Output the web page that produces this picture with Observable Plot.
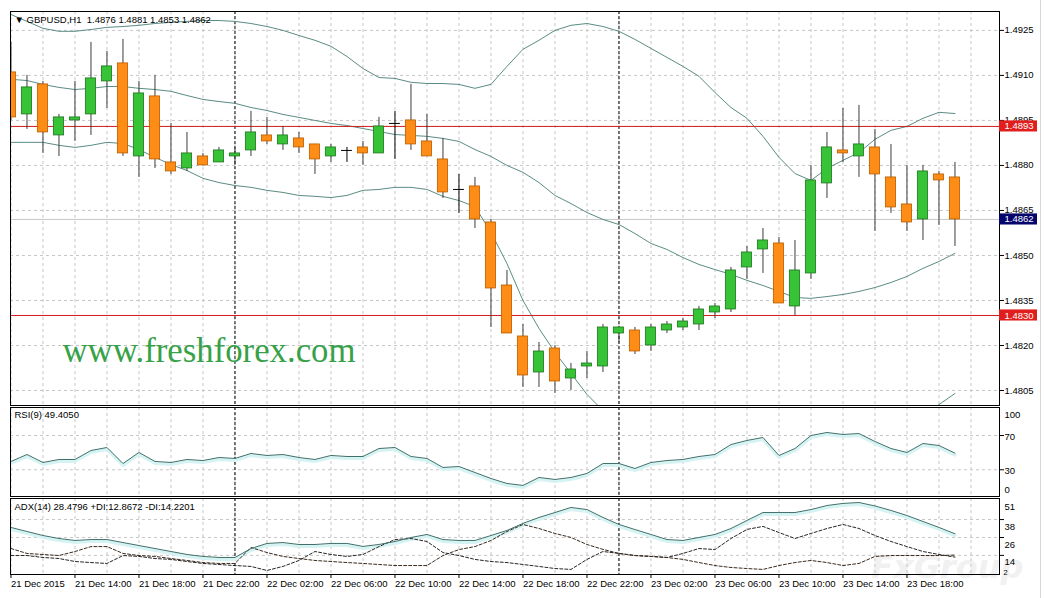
<!DOCTYPE html>
<html>
<head>
<meta charset="utf-8">
<script src="https://cdn.jsdelivr.net/npm/d3@7"></script>
<script src="https://cdn.jsdelivr.net/npm/@observablehq/plot@0.6"></script>
<style>
  body { margin: 0; background: #fff; }
  #wrap { position: relative; width: 1044px; height: 598px; overflow: hidden; }
  #wrap svg { display: block; }
  #edge { position: absolute; left: 1040px; top: 0; width: 1px; height: 598px; background: #d6d6d6; }
</style>
</head>
<body>
<div id="wrap"><div id="edge"></div></div>
<script>
// GBPUSD H1, 21 Dec 10:00 .. 23 Dec 21:00 (one value per bar)
const open = [1.4911,1.4897,1.4907,1.4890,1.4895,1.4897,1.4908,1.4914,1.4883,1.4903,
  1.4881,1.4879,1.4883,1.4881,1.4883,1.4885,1.4890,1.4887,1.4889,1.4887,
  1.4883,1.4885,1.4886,1.4884,1.4894,1.4895,1.4888,1.4882,1.4872,1.4873,
  1.4861,1.4840,1.4823,1.4811,1.4819,1.4809,1.4813,1.4813,1.4824,1.4825,
  1.4820,1.4825,1.4826,1.4827,1.4831,1.4832,1.4846,1.4852,1.4854,1.4833,
  1.4844,1.4874,1.4885,1.4883,1.4886,1.4876,1.4867,1.4862,1.4877,1.4876];
const high = [1.4921,1.4910,1.4908,1.4897,1.4908,1.4921,1.4918,1.4922,1.4908,1.4910,
  1.4894,1.4891,1.4884,1.4886,1.4886,1.4898,1.4896,1.4893,1.4891,1.4887,
  1.4887,1.4886,1.4888,1.4896,1.4898,1.4907,1.4897,1.4889,1.4877,1.4876,
  1.4862,1.4845,1.4827,1.4821,1.4820,1.4814,1.4818,1.4827,1.4826,1.4826,
  1.4827,1.4828,1.4829,1.4833,1.4834,1.4846,1.4853,1.4859,1.4856,1.4855,
  1.4880,1.4891,1.4899,1.4900,1.4892,1.4887,1.4880,1.4880,1.4878,1.4881];
const low = [1.4895,1.4892,1.4884,1.4883,1.4888,1.4890,1.4899,1.4883,1.4876,1.4879,
  1.4877,1.4878,1.4880,1.4881,1.4880,1.4883,1.4887,1.4885,1.4884,1.4877,
  1.4881,1.4881,1.4880,1.4884,1.4882,1.4885,1.4883,1.4869,1.4864,1.4859,
  1.4826,1.4824,1.4806,1.4806,1.4804,1.4805,1.4809,1.4811,1.4821,1.4817,
  1.4818,1.4824,1.4825,1.4825,1.4829,1.4831,1.4842,1.4844,1.4834,1.4830,
  1.4842,1.4869,1.4881,1.4876,1.4858,1.4864,1.4858,1.4855,1.4860,1.4853];
const close = [1.4896,1.4906,1.4891,1.4896,1.4896,1.4909,1.4913,1.4884,1.4904,1.4882,
  1.4878,1.4884,1.4880,1.4885,1.4884,1.4891,1.4888,1.4890,1.4886,1.4882,
  1.4886,1.4885,1.4884,1.4893,1.4894,1.4887,1.4883,1.4871,1.4872,1.4862,
  1.4839,1.4824,1.4810,1.4818,1.4808,1.4812,1.4814,1.4826,1.4826,1.4818,
  1.4826,1.4827,1.4828,1.4832,1.4833,1.4845,1.4851,1.4855,1.4834,1.4845,
  1.4875,1.4886,1.4884,1.4887,1.4877,1.4866,1.4861,1.4878,1.4875,1.4862];

// Bollinger bands as drawn (lower band leaves the chart in the middle)
const bbUpper = [1.49303,1.4928,1.49257,1.49247,1.49247,1.49253,1.4926,1.49263,1.49267,1.49273,
  1.49277,1.4928,1.49283,1.49283,1.4928,1.49273,1.49263,1.4925,1.49233,1.49217,
  1.49197,1.49163,1.49123,1.49093,1.4909,1.49077,1.49073,1.49073,1.4907,1.49057,
  1.4907,1.4913,1.49187,1.49217,1.4925,1.49267,1.49273,1.49263,1.49247,1.4922,
  1.4919,1.4916,1.4913,1.49097,1.49043,1.48993,1.48957,1.48897,1.48827,1.48773,
  1.4875,1.4879,1.48817,1.48843,1.48887,1.48917,1.4893,1.48957,1.48977,1.48973];
const bbMiddle = [1.49087,1.49083,1.4907,1.4906,1.49053,1.49057,1.49063,1.49063,1.49057,1.49053,
  1.49047,1.49033,1.4902,1.49013,1.49007,1.48993,1.48983,1.4897,1.4896,1.4895,
  1.4894,1.48933,1.48923,1.48913,1.48903,1.489,1.48897,1.4889,1.4888,1.48853,
  1.4883,1.488,1.48777,1.48743,1.487,1.48673,1.48643,1.4862,1.48603,1.48573,
  1.4854,1.4852,1.48493,1.4847,1.48453,1.48437,1.48417,1.484,1.4838,1.4836,
  1.48357,1.48363,1.4837,1.4838,1.48393,1.4841,1.4843,1.48457,1.4848,1.48507];
const bbLower = [1.48877,1.48877,1.48877,1.48867,1.4886,1.48867,1.48877,1.48873,1.48853,1.48827,
  1.48803,1.48783,1.48757,1.48743,1.48733,1.48727,1.48717,1.4871,1.487,1.48697,
  1.48693,1.487,1.48717,1.4872,1.48727,1.48727,1.4872,1.48697,1.48683,1.48663,
  1.48577,1.48473,1.4835,1.48257,1.48177,1.48107,1.48037,1.47983,null,null,
  null,null,null,null,null,null,null,null,null,null,
  null,null,null,null,null,null,null,1.47963,1.48003,1.4804];

const rsi = [39.7,47.8,38.5,42.0,42.0,52.5,56.0,37.3,50.2,39.7,
  38.5,42.0,40.8,44.3,43.2,49.0,46.7,47.8,44.3,42.0,
  46.7,45.5,45.5,54.8,56.0,45.5,43.2,32.7,33.8,26.8,
  19.8,14.0,11.7,21.0,18.7,21.0,25.7,37.3,37.3,31.5,
  38.5,40.8,42.0,45.5,47.8,59.5,64.2,67.7,46.7,54.8,
  70.0,73.5,71.2,72.3,63.0,54.8,50.2,60.7,58.3,49.405];

const adx = [32.7,30.0,27.3,25.3,24.0,24.6,24.6,22.6,20.6,18.6,
  16.6,14.6,13.3,12.6,12.6,18.6,22.0,22.6,21.3,21.3,
  22.0,22.0,20.0,21.3,23.3,26.0,28.0,24.6,24.0,24.0,
  27.3,30.7,35.4,39.4,42.7,46.1,44.7,39.4,34.7,31.3,
  28.0,24.6,24.0,26.0,28.0,32.0,37.4,42.7,42.7,42.7,
  44.7,47.4,48.8,49.4,47.1,44.1,40.7,36.7,32.7,28.4796];
const diPlus = [13.9,13.9,12.6,11.9,9.9,9.2,8.6,13.9,13.3,11.9,
  11.3,9.9,8.6,7.9,7.2,6.6,3.9,6.6,10.6,16.6,
  14.6,13.3,14.6,19.9,24.6,25.3,23.3,15.9,13.9,11.3,
  9.9,9.2,7.9,6.6,5.2,4.6,11.3,16.6,15.3,13.9,
  13.3,12.6,15.3,18.6,17.9,25.3,31.4,33.4,29.3,25.3,
  28.7,32.0,34.7,32.0,27.3,23.3,19.9,16.6,14.6,12.8672];
const diMinus = [18.6,15.3,14.6,13.9,16.6,19.9,19.9,15.3,13.9,13.3,
  11.9,10.6,9.2,8.6,8.6,19.3,15.9,13.3,11.9,10.6,
  9.9,9.2,8.6,7.9,7.2,7.2,7.2,13.9,17.9,19.9,
  24.0,30.0,34.7,32.0,28.7,26.0,21.3,18.0,15.3,13.9,
  13.3,12.6,11.3,9.2,7.2,5.9,5.2,4.6,7.2,9.2,
  10.6,9.2,7.2,8.6,13.3,13.9,13.9,13.9,13.9,14.2201];

const tickLabels = ["21 Dec 2015","21 Dec 14:00","21 Dec 18:00","21 Dec 22:00","22 Dec 02:00",
  "22 Dec 06:00","22 Dec 10:00","22 Dec 14:00","22 Dec 18:00","22 Dec 22:00","23 Dec 02:00",
  "23 Dec 06:00","23 Dec 10:00","23 Dec 14:00","23 Dec 18:00"];
const dayBreaks = [14, 38]; // midnight bars
const priceTicks = [1.4925,1.4910,1.4895,1.4880,1.4865,1.4850,1.4835,1.4820,1.4805];
const levels = [1.4893, 1.4830];
const rsiLevels = [70, 30];
const adxTicks = [38, 26, 14];

// layout
const W = 1044, M_LEFT = 10, M_RIGHT = 45, BAR_PX = 16;
const PLOT_W = W - M_LEFT - M_RIGHT;
const xDomain = [-0.03, -0.03 + PLOT_W / BAR_PX];
const FONT = '"Liberation Sans", Arial, sans-serif';
const GRID = {stroke: "#c6c6c6", strokeDasharray: "3,3"};
const SEP = {stroke: "#000", strokeDasharray: "3,2"};
const BAND = "#5a8c84", IND = "#3f6f69", HALO = "#d6f3f3";
const UP = "#36c436", UP_EDGE = "#1f731f", DOWN = "#ff8c14", DOWN_EDGE = "#b85c00";
const fmt4 = d3.format(".4f");
const gridBars = d3.range(0, 62, 2);
const tickBars = tickLabels.map((_, k) => k * 4);

const bars = open.map((o, i) => ({
  i, open: o, high: high[i], low: low[i], close: close[i],
  up: close[i] > o, doji: close[i] === o
}));
const ind = open.map((_, i) => ({
  i, upper: bbUpper[i], middle: bbMiddle[i], lower: bbLower[i],
  rsi: rsi[i], adx: adx[i], diPlus: diPlus[i], diMinus: diMinus[i]
}));
const last = bars[bars.length - 1];
const tags = [
  {v: levels[0], color: "#e01e1e"},
  {v: levels[1], color: "#e01e1e"},
  {v: last.close, color: "#05056c"}
];
const TAG_H = 0.000185;
const site = "www.freshforex.com";

const base = (height, mt, mb) => ({
  width: W, height, marginLeft: M_LEFT, marginRight: M_RIGHT, marginTop: mt, marginBottom: mb,
  style: {fontFamily: FONT, fontSize: "9.5px", color: "#000", background: "transparent"}
});
const rightLabel = (vals, dy, dx = 5, fontSize = 9.5) =>
  Plot.text(vals, {y: d => d, text: d => String(d), frameAnchor: "right", dx, dy, textAnchor: "start", fontSize});
const title = (t, dy) =>
  Plot.text([t], {frameAnchor: "top-left", dx: 4, dy, lineAnchor: "top", textAnchor: "start"});

const main = Plot.plot({
  ...base(406, 11, 1),
  x: {domain: xDomain, axis: null},
  y: {domain: [1.4800, 1.49313], axis: null},
  marks: [
    Plot.ruleX(gridBars, GRID),
    Plot.ruleY(priceTicks, GRID),
    Plot.ruleY([last.close], {stroke: "#c8c8c8"}),
    Plot.ruleX(dayBreaks, SEP),
    Plot.text([site], {frameAnchor: "bottom-left", dx: 52, dy: -44, textAnchor: "start",
      fill: "#36a148", fontFamily: '"Liberation Serif", "Times New Roman", serif', fontSize: 36}),
    Plot.line(ind, {x: "i", y: "upper", stroke: BAND, strokeWidth: 1, clip: true}),
    Plot.line(ind, {x: "i", y: "middle", stroke: BAND, strokeWidth: 1, clip: true}),
    Plot.line(ind, {x: "i", y: "lower", stroke: BAND, strokeWidth: 1, clip: true}),
    Plot.ruleY(levels, {stroke: "#d01c1c"}),
    Plot.ruleX(bars, {x: "i", y1: "low", y2: "high", stroke: d => d.doji ? "#000" : "#3c3c3c", clip: true}),
    Plot.rect(bars.filter(d => !d.doji), {
      x1: d => d.i - 0.32, x2: d => d.i + 0.32, y1: "open", y2: "close",
      fill: d => d.up ? UP : DOWN, stroke: d => d.up ? UP_EDGE : DOWN_EDGE, strokeWidth: 0.8, clip: true
    }),
    Plot.ruleY(bars.filter(d => d.doji), {y: "open", x1: d => d.i - 0.34, x2: d => d.i + 0.34, stroke: "#000"}),
    Plot.frame({stroke: "#000"}),
    Plot.axisY(priceTicks, {anchor: "right", tickSize: 4, tickPadding: 1, tickFormat: fmt4, label: null}),
    Plot.rect(tags, {y1: d => d.v - TAG_H, y2: d => d.v + TAG_H, fill: d => d.color,
      insetLeft: PLOT_W, insetRight: -38}),
    Plot.text(tags, {y: "v", text: d => fmt4(d.v), frameAnchor: "right", dx: 5, textAnchor: "start", fill: "#fff"}),
    title(`\u25BC GBPUSD,H1\u00a0\u00a0${fmt4(last.open)} ${fmt4(last.high)} ${fmt4(last.low)} ${fmt4(last.close)}`, 5)
  ]
});
d3.select(main).selectAll("text").filter(function () { return this.textContent === site; })
  .attr("textLength", 293).attr("lengthAdjust", "spacingAndGlyphs");

const rsiChart = Plot.plot({
  ...base(91, 1, 1),
  x: {domain: xDomain, axis: null},
  y: {domain: [-1.2, 102.7], axis: null},
  marks: [
    Plot.ruleX(gridBars, GRID),
    Plot.ruleY(rsiLevels, GRID),
    Plot.ruleX(dayBreaks, SEP),
    Plot.line(ind, {x: "i", y: "rsi", stroke: HALO, strokeWidth: 3, dy: 2}),
    Plot.line(ind, {x: "i", y: "rsi", stroke: IND, strokeWidth: 1}),
    Plot.frame({stroke: "#000"}),
    Plot.axisY(rsiLevels, {anchor: "right", tickSize: 4, tickFormat: () => "", label: null}),
    rightLabel(rsiLevels, 1),
    rightLabel([100], 5),
    rightLabel([0], -6),
    title(`RSI(9) ${fmt4(rsi[last.i])}`, 4)
  ]
});

const adxChart = Plot.plot({
  ...base(101, 1, 24),
  x: {domain: xDomain, axis: null},
  y: {domain: [1.2, 52.1], axis: null},
  marks: [
    Plot.text(["FxGroup"], {frameAnchor: "bottom-right", dx: 24, dy: 3, textAnchor: "end",
      fill: "#f1f1f1", fontSize: 32, fontWeight: "bold", fontStyle: "italic", fontFamily: '"DejaVu Sans", sans-serif'}),
    Plot.ruleX(gridBars, GRID),
    Plot.ruleY(adxTicks, GRID),
    Plot.ruleX(dayBreaks, SEP),
    Plot.line(ind, {x: "i", y: "adx", stroke: HALO, strokeWidth: 3, dy: 2}),
    Plot.line(ind, {x: "i", y: "diPlus", stroke: "#262626", strokeWidth: 1, strokeDasharray: "3,2"}),
    Plot.line(ind, {x: "i", y: "diMinus", stroke: "#3a2a1c", strokeWidth: 1, strokeDasharray: "3,2"}),
    Plot.line(ind, {x: "i", y: "adx", stroke: IND, strokeWidth: 1}),
    Plot.frame({stroke: "#000"}),
    Plot.axisY(adxTicks, {anchor: "right", tickSize: 4, tickFormat: () => "", label: null}),
    rightLabel([51, ...adxTicks], 7),
    rightLabel([2], -1, 4, 7.5),
    Plot.axisX(tickBars, {anchor: "bottom", tickSize: 4, tickPadding: 2, textAnchor: "start",
      tickFormat: d => tickLabels[d / 4], label: null}),
    title(`ADX(14) ${fmt4(adx[last.i])} +DI:${fmt4(diPlus[last.i])} -DI:${fmt4(diMinus[last.i])}`, 5)
  ]
});

const wrap = document.getElementById("wrap");
wrap.append(main, rsiChart, adxChart);
</script>
</body>
</html>
